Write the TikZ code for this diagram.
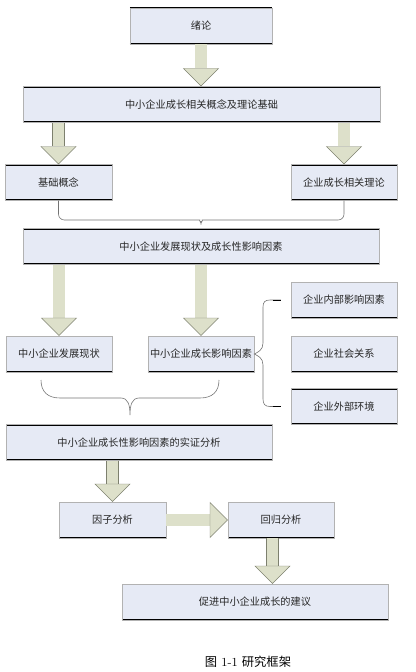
\documentclass[tikz,border=0pt]{standalone}
\usepackage{fontspec}
\newfontfamily\cjk{Noto Sans CJK SC}
\usetikzlibrary{arrows.meta,calc}
\definecolor{boxfill}{RGB}{230,234,245}
\definecolor{arrfill}{RGB}{221,224,202}
\definecolor{arrline}{RGB}{125,128,110}
\begin{document}
\begin{tikzpicture}[x=0.03cm, y=-0.03cm,
    box/.style={fill=boxfill, draw=gray!60, minimum height=1.08cm, inner sep=0pt, text=black!85,
        font=\cjk\fontsize{8.7}{10}\selectfont,
        path picture={\draw[black, line width=1.8pt] (path picture bounding box.north west) -- (path picture bounding box.north east)
            (path picture bounding box.south west) -- (path picture bounding box.south east);}},
    blk/.style={draw=arrline, line width=0.4pt, double=arrfill, double distance=0.34cm,
        -{Triangle[length=0.54cm, width=1.08cm, fill=arrfill, line width=0.4pt]}},
    brace/.style={draw=black!55, line width=0.5pt}
]
\useasboundingbox (0,0) rectangle (415,672);

\node[box, minimum width=4.26cm] (intro) at (201,26) {绪论};
\node[box, minimum width=10.71cm] (basis) at (201.5,104.5) {中小企业成长相关概念及理论基础};
\node[box, minimum width=3.21cm] (concept) at (58.5,182.5) {基础概念};
\node[box, minimum width=3.18cm] (theory) at (344,182.5) {企业成长相关理论};
\node[box, minimum width=10.68cm] (status) at (201,246.5) {中小企业发展现状及成长性影响因素};
\node[box, minimum width=3.18cm] (current) at (59,354) {中小企业发展现状};
\node[box, minimum width=3.18cm] (factors) at (201,354) {中小企业成长影响因素};
\node[box, minimum width=3.18cm] (inner) at (344,300) {企业内部影响因素};
\node[box, minimum width=3.18cm] (social) at (344,354) {企业社会关系};
\node[box, minimum width=3.18cm] (outer) at (344,406.5) {企业外部环境};
\node[box, minimum width=7.98cm] (empirical) at (139,442.5) {中小企业成长性影响因素的实证分析};
\node[box, minimum width=3.21cm] (factan) at (112.5,520) {因子分析};
\node[box, minimum width=3.18cm] (regress) at (281,520) {回归分析};
\node[box, minimum width=7.98cm] (advice) at (255,602) {促进中小企业成长的建议};
\node[font=\fontsize{10.5}{12}\selectfont] (caption) at (248,662) {{\cjk 图} 1-1 {\cjk 研究框架}};

\draw[blk] (intro.south) -- (intro.south |- basis.north);
\draw[blk] (concept.north |- basis.south) -- (concept.north);
\draw[blk] (theory.north |- basis.south) -- (theory.north);
\draw[blk] (current.north |- status.south) -- (current.north);
\draw[blk] (factors.north |- status.south) -- (factors.north);
\draw[blk] (factan.north |- empirical.south) -- (factan.north);
\draw[blk] (factan.east) -- (regress.west);
\coordinate (adv) at ($(regress.south)+(-8.5,0)$);
\draw[blk] (adv) -- (adv |- advice.north);

\coordinate (tip1) at (201,228);
\draw[brace, rounded corners=5pt] (concept.south) |- ($(tip1)+(-7,-8)$) .. controls +(5,0) and +(0,-4) .. (tip1)
    .. controls +(0,-4) and +(-5,0) .. ($(tip1)+(7,-8)$) -| (theory.south);

\coordinate (b2l) at (41,380);
\coordinate (b2r) at (219,380);
\coordinate (tip2) at (130,415);
\draw[brace] (b2l) .. controls +(0,12) and +(-12,0) .. (60,398) -- (121,398) .. controls +(7,0) and +(0,-10) .. (tip2)
    .. controls +(0,-10) and +(-7,0) .. (139,398) -- (200,398) .. controls +(12,0) and +(0,12) .. (b2r);

\draw[brace] ($(inner.west)+(-10,0)$) -- (270,300) .. controls +(-5,0) and +(0,-5) .. (263,307) -- (263,343)
    .. controls +(0,7) and +(4,-2) .. (factors.east) .. controls +(4,2) and +(0,-7) .. (263,365) -- (263,399)
    .. controls +(0,5) and +(-5,0) .. (270,406.5) -- ($(outer.west)+(-10,0)$);
\draw[black, line width=0.8pt] ($(inner.west)+(-18,0)$) -- ($(inner.west)+(-10,0)$);
\draw[black, line width=1.2pt] ($(outer.west)+(-18,0)$) -- ($(outer.west)+(-10,0)$);
\end{tikzpicture}
\end{document}
